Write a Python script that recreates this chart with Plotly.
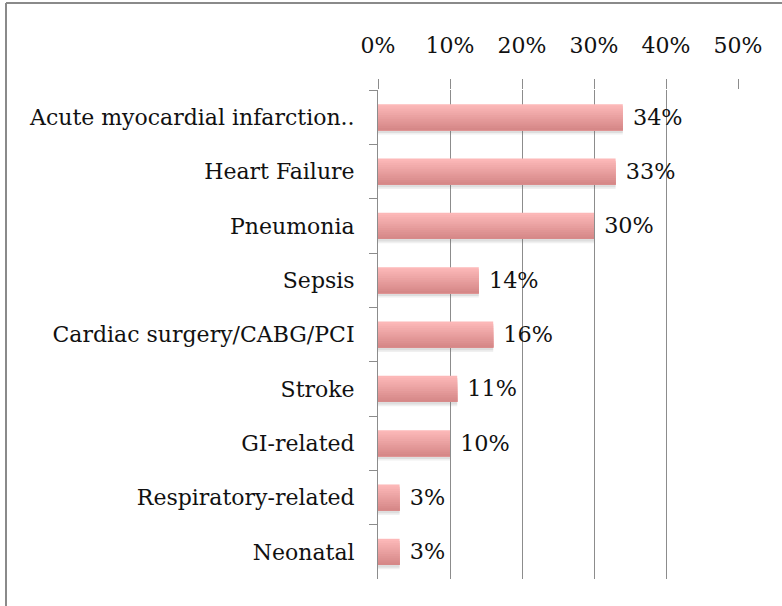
import plotly.graph_objects as go

categories = ["Acute myocardial infarction..", "Heart Failure", "Pneumonia", "Sepsis",
              "Cardiac surgery/CABG/PCI", "Stroke", "GI-related", "Respiratory-related", "Neonatal"]
values = [34, 33, 30, 14, 16, 11, 10, 3, 3]
labels = [f"\u00a0{v}%" for v in values]
tick_vals = [0, 10, 20, 30, 40, 50]
tick_text = ["0%", "10%", "20%", "30%", "40%", "50%"]

FONT = "DejaVu Serif"
BAR_W = 0.48

fig = go.Figure()

# soft shadow under the bars
for k, (off, alpha) in enumerate([(0.08, 0.10), (0.05, 0.14)]):
    fig.add_trace(go.Bar(
        y=categories, x=values, orientation="h",
        marker=dict(color=f"rgba(110,110,110,{alpha})", line=dict(width=0)),
        width=BAR_W, offset=-BAR_W / 2 + off, hoverinfo="skip",
    ))

# vertical gradient (light top -> darker bottom) built from overlapping bands
top_rgb = (252, 184, 184)
bot_rgb = (214, 136, 136)
n_bands = 12
band = BAR_W / n_bands
for i in range(n_bands):
    t = i / (n_bands - 1)
    c = tuple(round(top_rgb[k] + (bot_rgb[k] - top_rgb[k]) * t) for k in range(3))
    fig.add_trace(go.Bar(
        y=categories, x=values, orientation="h",
        marker=dict(color=f"rgb{c}", line=dict(width=0)),
        width=BAR_W - i * band, offset=-BAR_W / 2 + i * band, hoverinfo="skip",
    ))

# labels
fig.add_trace(go.Bar(
    y=categories, x=values, orientation="h",
    marker=dict(color="rgba(0,0,0,0)", line=dict(width=0)),
    width=BAR_W, offset=-BAR_W / 2,
    text=labels, textposition="outside", cliponaxis=False,
    textfont=dict(family=FONT, size=24, color="#111111"),
))

px = lambda p: (p - 378) / 360
py = lambda p: (579 - p) / 489

fig.update_layout(
    width=782, height=606,
    margin=dict(l=378, r=44, t=90, b=27),
    paper_bgcolor="white", plot_bgcolor="white",
    showlegend=False, barmode="overlay",
    font=dict(family=FONT, size=22, color="#111111"),
    xaxis=dict(side="top", range=[0, 50], tickvals=tick_vals, ticktext=tick_text,
               showgrid=True, gridcolor="#8c8c8c", gridwidth=1,
               ticks="outside", ticklen=10, tickcolor="#8c8c8c",
               showline=False, zeroline=False, ticklabelstandoff=17,
               tickfont=dict(family=FONT, size=22, color="#111111")),
    yaxis=dict(autorange="reversed", showline=True, linecolor="#8c8c8c", linewidth=1,
               ticks="outside", ticklen=8, tickcolor="#8c8c8c", tickson="boundaries",
               showgrid=False, ticklabelstandoff=18,
               tickfont=dict(family=FONT, size=22, color="#111111")),
    shapes=[
        dict(type="line", xref="paper", yref="paper", x0=px(6), x1=px(790),
             y0=py(3), y1=py(3), line=dict(color="#8a8a8a", width=2)),
        dict(type="line", xref="paper", yref="paper", x0=px(6), x1=px(6),
             y0=py(3), y1=py(620), line=dict(color="#8a8a8a", width=2)),
    ],
)

fig.write_html("out.html", config={"displayModeBar": False},
               post_script="document.body.style.margin='0px';")
